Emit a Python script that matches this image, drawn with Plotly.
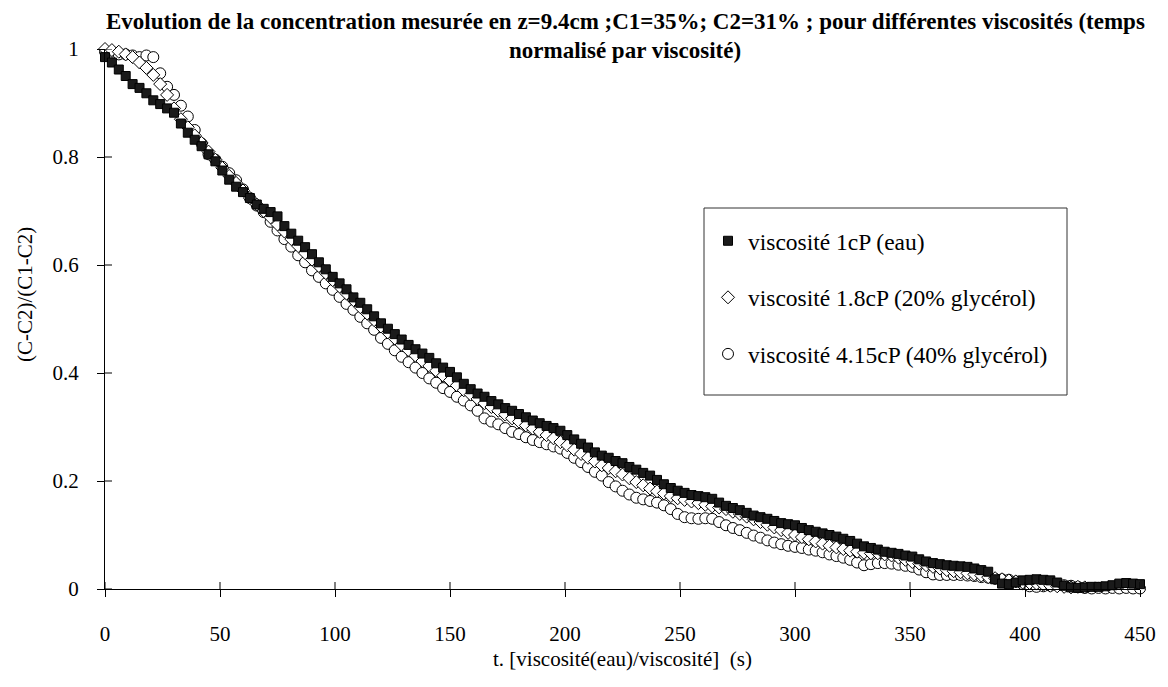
import numpy as np
import plotly.graph_objects as go

# Sampling grid of the normalised time axis, t * (viscosity of water / viscosity), in s
T_STEP = 3

# Normalised concentration (C-C2)/(C1-C2) for each viscosity
conc_1cP = [
    0.985, 0.975, 0.962, 0.950, 0.935, 0.928, 0.918, 0.905, 0.898, 0.890,
    0.882, 0.862, 0.845, 0.832, 0.820, 0.805, 0.792, 0.775, 0.758, 0.745,
    0.735, 0.724, 0.712, 0.704, 0.698, 0.690, 0.672, 0.658, 0.645, 0.633,
    0.620, 0.605, 0.592, 0.578, 0.566, 0.555, 0.540, 0.530, 0.518, 0.505,
    0.492, 0.482, 0.472, 0.462, 0.452, 0.444, 0.436, 0.428, 0.418, 0.410,
    0.402, 0.392, 0.380, 0.370, 0.362, 0.356, 0.348, 0.342, 0.335, 0.330,
    0.324, 0.318, 0.312, 0.307, 0.302, 0.298, 0.293, 0.285, 0.277, 0.269,
    0.262, 0.253, 0.247, 0.243, 0.237, 0.233, 0.226, 0.221, 0.215, 0.210,
    0.202, 0.194, 0.187, 0.182, 0.178, 0.174, 0.172, 0.170, 0.167, 0.160,
    0.154, 0.150, 0.146, 0.141, 0.136, 0.133, 0.130, 0.126, 0.122, 0.120,
    0.118, 0.113, 0.109, 0.106, 0.103, 0.100, 0.097, 0.093, 0.089, 0.084,
    0.079, 0.076, 0.073, 0.069, 0.067, 0.065, 0.062, 0.060, 0.055, 0.051,
    0.048, 0.046, 0.044, 0.043, 0.042, 0.041, 0.038, 0.035, 0.032, 0.018,
    0.010, 0.009, 0.012, 0.016, 0.017, 0.018, 0.017, 0.016, 0.012, 0.006,
    0.003, 0.002, 0.003, 0.004, 0.004, 0.005, 0.007, 0.010, 0.011, 0.010,
    0.009,
]

conc_1_8cP = [
    1.000, 0.998, 0.995, 0.990, 0.985, 0.975, 0.965, 0.952, 0.935, 0.915,
    0.890, 0.870, 0.855, 0.840, 0.826, 0.810, 0.795, 0.780, 0.765, 0.752,
    0.738, 0.724, 0.712, 0.700, 0.688, 0.675, 0.662, 0.648, 0.635, 0.622,
    0.610, 0.598, 0.585, 0.572, 0.560, 0.547, 0.535, 0.522, 0.510, 0.498,
    0.486, 0.475, 0.464, 0.452, 0.442, 0.432, 0.422, 0.413, 0.404, 0.395,
    0.386, 0.377, 0.368, 0.360, 0.352, 0.344, 0.337, 0.330, 0.323, 0.316,
    0.310, 0.303, 0.297, 0.291, 0.285, 0.279, 0.272, 0.266, 0.258, 0.250,
    0.243, 0.236, 0.229, 0.224, 0.218, 0.212, 0.205, 0.198, 0.192, 0.186,
    0.181, 0.177, 0.172, 0.168, 0.165, 0.162, 0.159, 0.156, 0.153, 0.151,
    0.148, 0.143, 0.139, 0.134, 0.129, 0.124, 0.119, 0.114, 0.109, 0.104,
    0.100, 0.096, 0.092, 0.088, 0.084, 0.080, 0.077, 0.074, 0.071, 0.069,
    0.067, 0.066, 0.066, 0.064, 0.062, 0.058, 0.054, 0.050, 0.047, 0.044,
    0.041, 0.038, 0.035, 0.033, 0.031, 0.029, 0.027, 0.025, 0.022, 0.020,
    0.018, 0.016, 0.014, 0.012, 0.011, 0.010, 0.008, 0.006, 0.005, 0.004,
    0.003, 0.004, 0.003,
]

conc_4_15cP = [
    0.995, 0.995, 0.990, 0.990, 0.988, 0.985, 0.988, 0.985, 0.955, 0.930,
    0.915, 0.895, 0.875, 0.850, 0.825, 0.805, 0.795, 0.782, 0.770, 0.757,
    0.740, 0.724, 0.710, 0.698, 0.680, 0.664, 0.648, 0.634, 0.618, 0.605,
    0.590, 0.578, 0.566, 0.554, 0.541, 0.528, 0.517, 0.504, 0.492, 0.480,
    0.465, 0.454, 0.442, 0.430, 0.420, 0.410, 0.400, 0.390, 0.382, 0.372,
    0.365, 0.356, 0.349, 0.340, 0.330, 0.316, 0.310, 0.305, 0.298, 0.291,
    0.287, 0.281, 0.276, 0.272, 0.268, 0.264, 0.260, 0.252, 0.243, 0.235,
    0.226, 0.217, 0.210, 0.198, 0.190, 0.182, 0.175, 0.169, 0.166, 0.163,
    0.160, 0.155, 0.148, 0.139, 0.133, 0.131, 0.130, 0.131, 0.130, 0.124,
    0.118, 0.113, 0.109, 0.104, 0.099, 0.095, 0.090, 0.086, 0.083, 0.080,
    0.078, 0.076, 0.073, 0.071, 0.068, 0.064, 0.061, 0.058, 0.054, 0.049,
    0.044, 0.046, 0.048, 0.048, 0.047, 0.045, 0.043, 0.041, 0.036, 0.031,
    0.027, 0.026, 0.026, 0.026, 0.026, 0.025, 0.024, 0.022, 0.021, 0.019,
    0.018, 0.017, 0.014, 0.009, 0.005, 0.004, 0.005, 0.006, 0.007, 0.007,
    0.006, 0.004, 0.002, 0.001, 0.002, 0.001, 0.002, 0.001, 0.002, 0.001,
    0.001,
]

series_names = [
    "viscosité 1cP (eau)",
    "viscosité 1.8cP (20% glycérol)",
    "viscosité 4.15cP (40% glycérol)",
]

x_ticks = [0, 50, 100, 150, 200, 250, 300, 350, 400, 450]
y_ticks = [0, 0.2, 0.4, 0.6, 0.8, 1]
y_tick_text = ["0", "0.2", "0.4", "0.6", "0.8", "1"]

title_line1 = ("Evolution de la concentration mesurée en z=9.4cm ;C1=35%; "
               "C2=31% ; pour différentes viscosités (temps")
title_line2 = "normalisé par viscosité)"
x_title = "t. [viscosité(eau)/viscosité]&nbsp;&nbsp;(s)"
y_title = "(C-C2)/(C1-C2)"

FONT = "Liberation Serif, Times New Roman, serif"

# Plot area geometry in pixels (used to place text and the legend frame)
W, H = 1168, 687
L, R, T, B = 105, 28, 49, 98
PW, PH = W - L - R, H - T - B


def px_x(p):
    return (p - L) / PW


def px_y(p):
    return (H - B - p) / PH


def time_axis(values):
    return np.arange(len(values)) * T_STEP


fig = go.Figure()

# Drawn back to front: circles, diamonds, then the filled squares on top
fig.add_trace(go.Scatter(
    x=time_axis(conc_4_15cP), y=conc_4_15cP, mode="markers", name=series_names[2],
    legendrank=3, legendgroup="c", cliponaxis=False,
    marker=dict(symbol="circle", size=11, color="white",
                line=dict(color="black", width=1)),
))
fig.add_trace(go.Scatter(
    x=time_axis(conc_1_8cP), y=conc_1_8cP, mode="markers", name=series_names[1],
    legendrank=2, legendgroup="b", cliponaxis=False,
    marker=dict(symbol="diamond", size=10, color="white",
                line=dict(color="black", width=1)),
))
fig.add_trace(go.Scatter(
    x=time_axis(conc_1cP), y=conc_1cP, mode="markers", name=series_names[0],
    legendrank=1, legendgroup="a", cliponaxis=False,
    marker=dict(symbol="square", size=9, color="#1a1a1a",
                line=dict(color="black", width=1)),
))

# Inner halves of the crossing tick marks
shapes = []
for v in x_ticks:
    shapes.append(dict(type="line", xref="x", yref="y", ysizemode="pixel",
                       yanchor=0, x0=v, x1=v, y0=0, y1=7,
                       line=dict(color="black", width=1)))
for v in y_ticks:
    shapes.append(dict(type="line", xref="x", yref="y", xsizemode="pixel",
                       xanchor=0, x0=0, x1=7, y0=v, y1=v,
                       line=dict(color="black", width=1)))

# Legend frame
shapes.append(dict(type="rect", xref="paper", yref="paper",
                   x0=px_x(704), x1=px_x(1067), y0=px_y(395), y1=px_y(208),
                   line=dict(color="#333333", width=1), fillcolor="rgba(0,0,0,0)",
                   layer="below"))

annotations = [
    dict(text="<b>" + title_line1 + "</b>", xref="paper", yref="paper",
         x=px_x(625), y=px_y(22), xanchor="center", yanchor="middle",
         showarrow=False, font=dict(family=FONT, size=23, color="black")),
    dict(text="<b>" + title_line2 + "</b>", xref="paper", yref="paper",
         x=px_x(625), y=px_y(51), xanchor="center", yanchor="middle",
         showarrow=False, font=dict(family=FONT, size=23, color="black")),
    dict(text=x_title, xref="paper", yref="paper", x=px_x(622), y=px_y(659),
         xanchor="center", yanchor="middle", showarrow=False,
         font=dict(family=FONT, size=21, color="black")),
    dict(text=y_title, xref="paper", yref="paper", x=px_x(25), y=px_y(295),
         xanchor="center", yanchor="middle", textangle=-90, showarrow=False,
         font=dict(family=FONT, size=21, color="black")),
]

fig.update_layout(
    width=W, height=H,
    margin=dict(l=L, r=R, t=T, b=B),
    paper_bgcolor="white", plot_bgcolor="white",
    font=dict(family=FONT, size=21, color="black"),
    showlegend=True,
    legend=dict(
        x=px_x(708), y=px_y(219), xanchor="left", yanchor="top",
        borderwidth=0, bgcolor="rgba(0,0,0,0)",
        font=dict(family=FONT, size=23.5, color="black"),
        traceorder="grouped", tracegroupgap=23,
    ),
    xaxis=dict(
        range=[0, 450], tickvals=x_ticks, ticks="outside", ticklen=7,
        tickwidth=1, tickcolor="black", showline=True, linecolor="black",
        linewidth=1, showgrid=False, zeroline=False,
        ticklabelstandoff=19, tickfont=dict(family=FONT, size=21),
    ),
    yaxis=dict(
        range=[0, 1], tickvals=y_ticks, ticktext=y_tick_text, ticks="outside",
        ticklen=7, tickwidth=1, tickcolor="black", showline=True,
        linecolor="black", linewidth=1, showgrid=False, zeroline=False,
        ticklabelstandoff=14, tickfont=dict(family=FONT, size=21),
    ),
    shapes=shapes,
    annotations=annotations,
)

fig.write_html("out.html")
